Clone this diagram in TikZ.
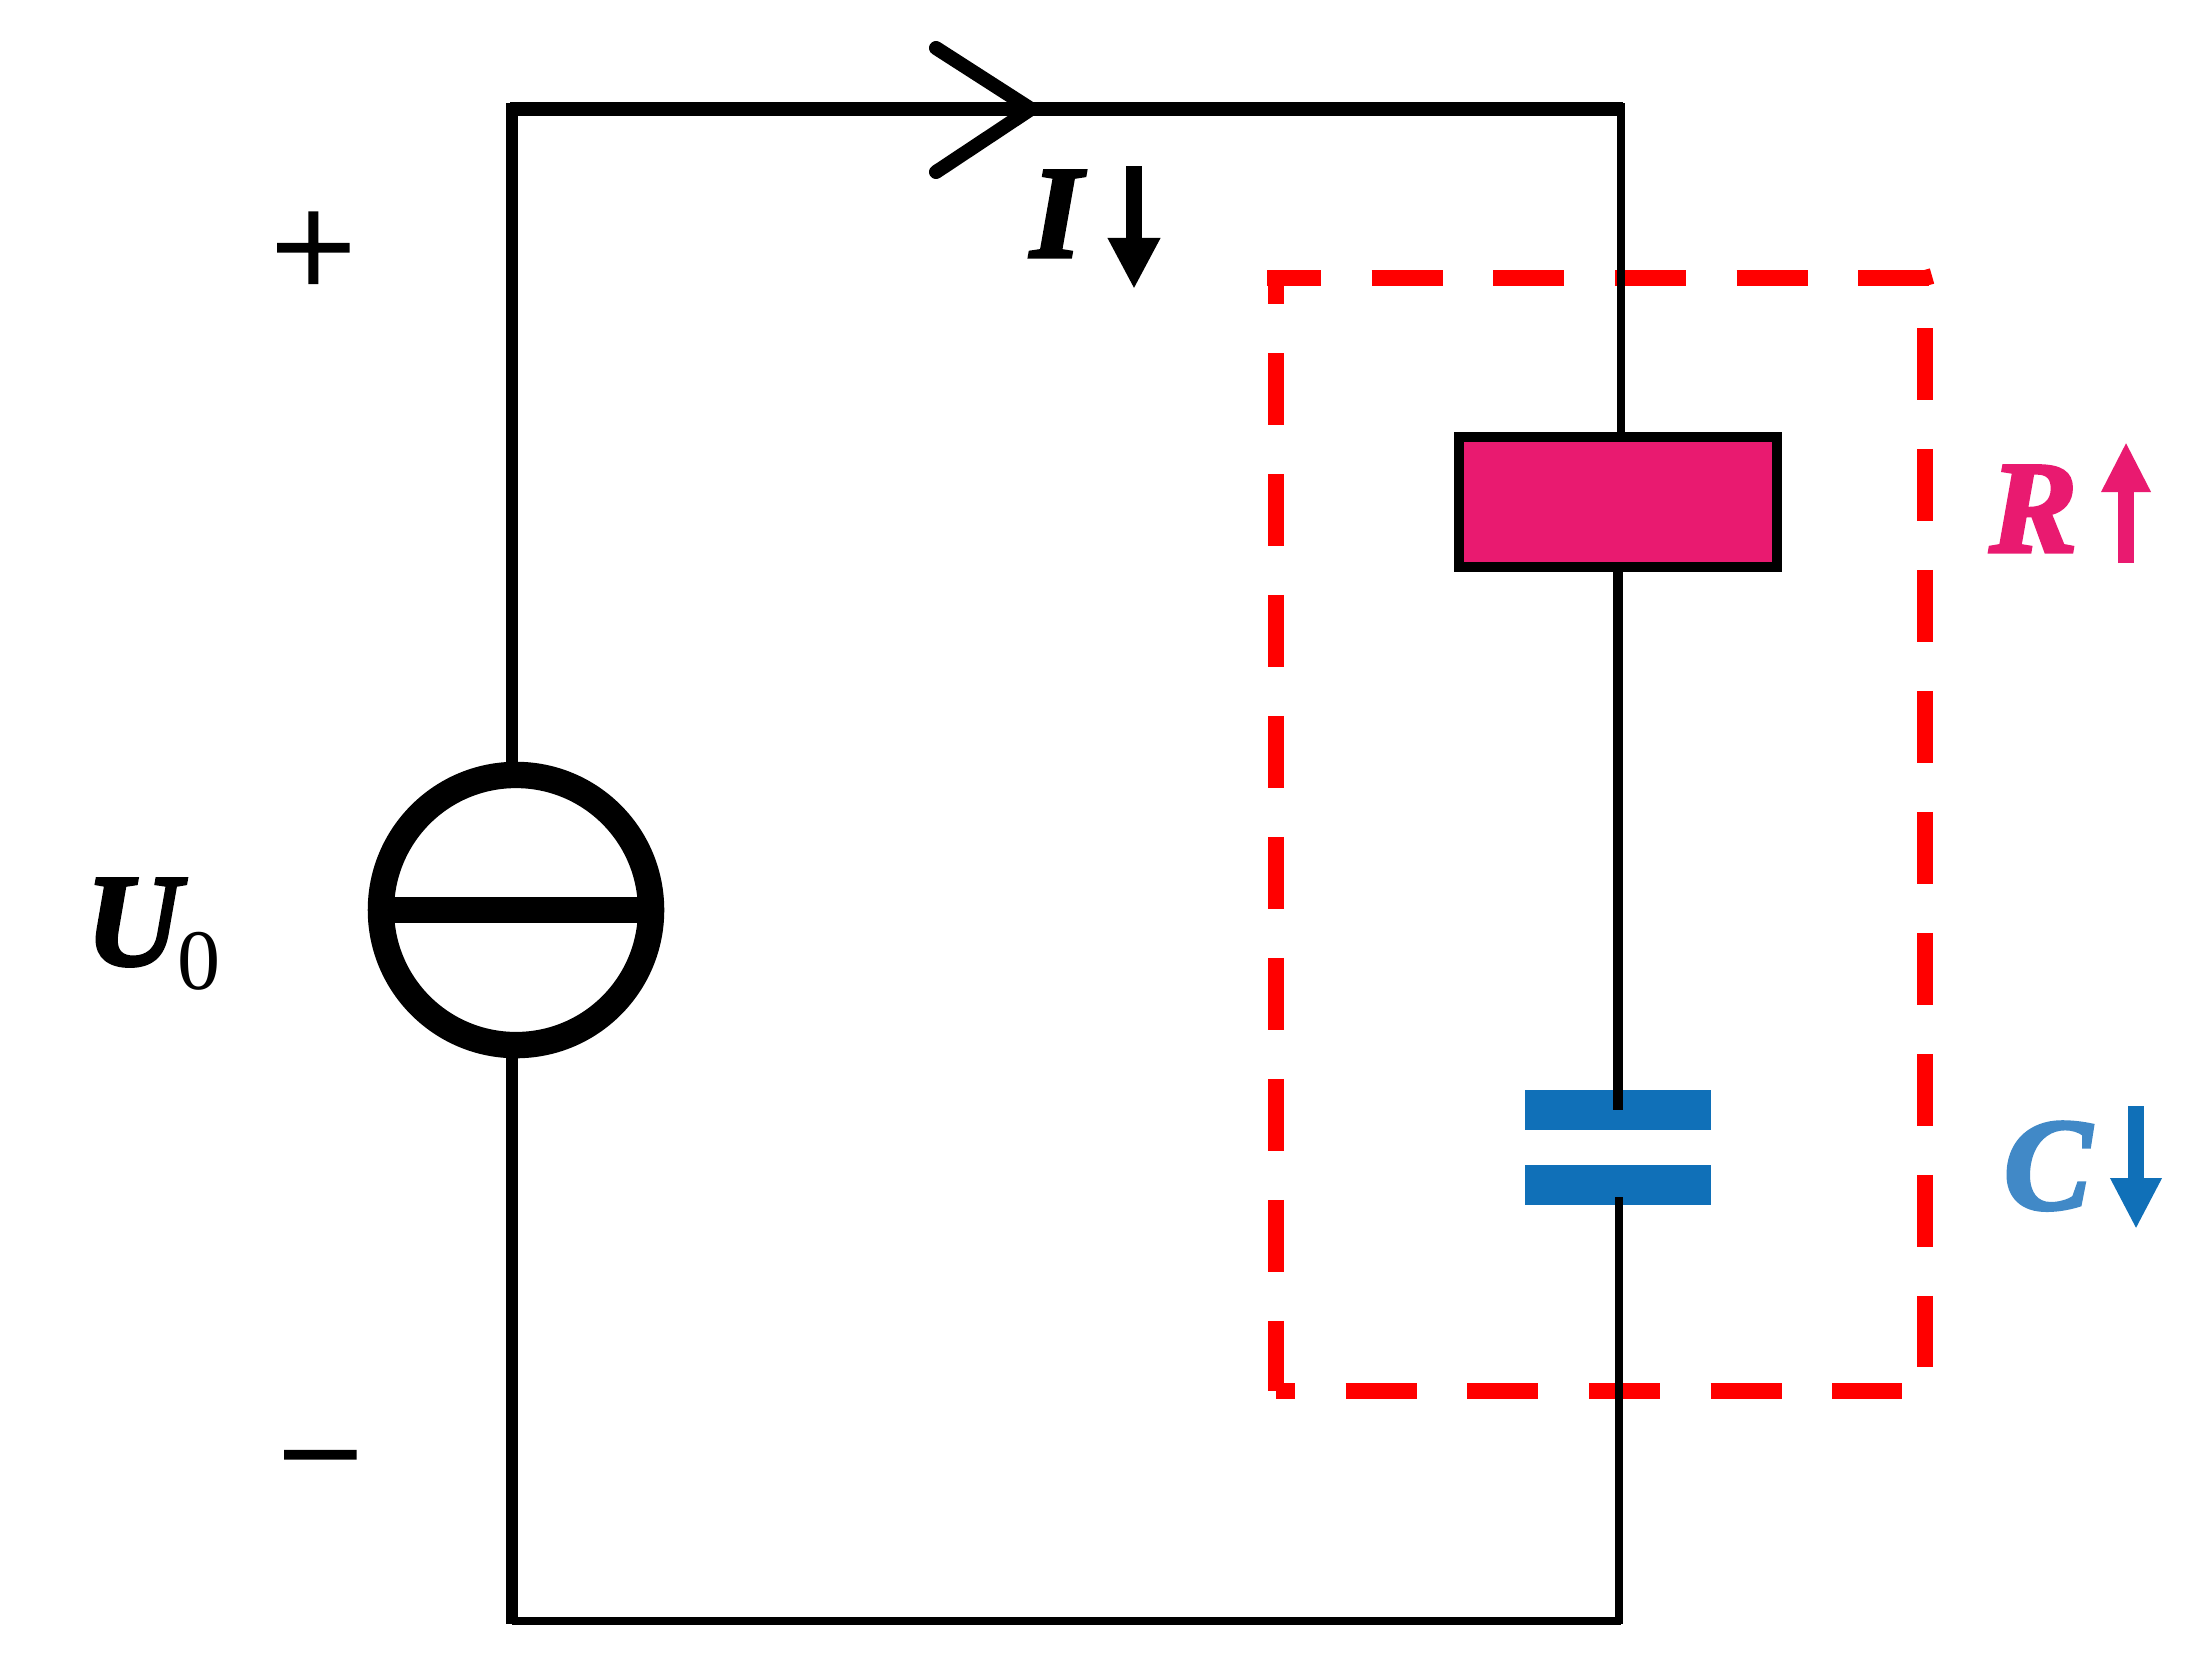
\documentclass[tikz,border=0pt]{standalone}
\usepackage{fontspec}
\setmainfont{Liberation Serif}
\newfontfamily\lblfont[FakeBold=2.6]{Liberation Serif Bold Italic}
\newfontfamily\signfont[FakeBold=1.5]{Liberation Serif}
\usetikzlibrary{arrows.meta}
\definecolor{redbox}{HTML}{FF0000}
\definecolor{resfill}{HTML}{E91A70}
\definecolor{capblue}{HTML}{1070B8}
\definecolor{clabel}{HTML}{4189C7}
\tikzset{
  wire/.style={draw=black,line cap=butt},
  frameh/.style={draw=redbox,line width=4.7pt,dash pattern=on 20.2pt off 14.4pt},
  framev/.style={draw=redbox,line width=4.7pt,dash pattern=on 20.4pt off 14.0pt},
  plate/.style={rectangle,fill=capblue,minimum width=1.86cm,minimum height=0.40cm,inner sep=0pt},
  lab/.style={anchor=base west,inner sep=0pt,font=\fontsize{37.4pt}{40pt}\selectfont},
  sign/.style={anchor=base west,inner sep=0pt,font=\fontsize{43pt}{46pt}\signfont},
  blab/.style={lab,font=\fontsize{37.4pt}{40pt}\lblfont},
  shaft/.style={line width=4.8pt}
}
\begin{document}
\begin{tikzpicture}[x=0.01cm,y=-0.01cm]
\useasboundingbox (0,0) rectangle (2195,1669);
% dashed frame
\coordinate (ftl) at (1267,278);
\coordinate (ftr) at (1929,278);
\coordinate (fte) at (1925,278);
\coordinate (fte2) at (1932,276);
\coordinate (fl1) at (1276,270);
\coordinate (fl2) at (1276,1391);
\coordinate (fr1) at (1925,328);
\coordinate (fr2) at (1925,1367);
\coordinate (fb1) at (1276,1391);
\coordinate (fb2) at (1902,1391);
\draw[frameh,dash phase=4.84pt] (ftl) -- (ftr);
\draw[draw=redbox,line width=4.5pt] (fte) -- (fte2);
\draw[framev,dash phase=10.8pt] (fl1) -- (fl2);
\draw[framev] (fr1) -- (fr2);
\draw[frameh,dash phase=14.8pt] (fb1) -- (fb2);
% components
\node[draw=black,line width=2.85pt,fill=resfill,rectangle,minimum width=3.17cm,minimum height=1.30cm,inner sep=0pt] (Rbox) at (1618,502) {};
\node[plate] (c1) at (1618,1110) {};
\node[plate] (c2) at (1618,1185) {};
\node[draw=black,line width=7.5pt,circle,minimum size=2.70cm,inner sep=0pt] (src) at (516,910) {};
% corners
\coordinate (tl) at (510,109);
\coordinate (tr) at (1623,109);
\coordinate (trw) at (1621,103);
\coordinate (bl) at (512,1621);
\coordinate (br) at (1621,1621);
\coordinate (brw) at (1619,1624);
\coordinate (cb) at (1619,1197);
\coordinate (rt) at (1621,432);
\coordinate (ltop) at (512,103);
\coordinate (lsrc) at (512,770);
\coordinate (lsrc2) at (512,1050);
\coordinate (blw) at (512,1624);
% wires
\draw[wire,line width=4.2pt] (tl) -- (tr);
\draw[wire,line width=2.5pt] (trw) -- (rt);
\draw[wire,line width=3.1pt] (Rbox.south) -- (c1.center);
\draw[wire,line width=2.4pt] (cb) -- (brw);
\draw[wire,line width=2.1pt] (bl) -- (br);
\draw[wire,line width=3.4pt] (ltop) -- (lsrc);
\draw[wire,line width=3.4pt] (lsrc2) -- (blw);
\draw[wire,line width=7.6pt,shorten >=0.08cm,shorten <=0.08cm] (src.west) -- (src.east);
% current chevron
\coordinate (ch1) at (936,48);
\coordinate (ch2) at (1031,109);
\coordinate (ch3) at (936,172);
\draw[line width=4pt,line cap=round,line join=miter] (ch1) -- (ch2) -- (ch3);
% labels
\node[sign] (plus) at (270,298) {+};
\node[sign] (minus) at (277,1505) {−};
\node[blab] (ilab) at (1030,257) {I};
\node[lab] (ulab) at (85,965) {{\lblfont U}\kern-1pt\raisebox{-7pt}{\fontsize{24.5pt}{26pt}\selectfont 0}};
\node[blab,text=resfill] (rlab) at (1989,552) {R};
\node[blab,text=clabel] (clab) at (2003,1209) {C};
% small arrows
\coordinate (ia) at (1134,166);
\coordinate (ib) at (1134,289);
\draw[shaft,-{Triangle[length=5.1mm,width=4.9mm]}] (ia) -- (ib);
\coordinate (ra) at (2126,563);
\coordinate (rb) at (2126,442);
\draw[shaft,draw=resfill,-{Triangle[length=5mm,width=4.6mm]}] (ra) -- (rb);
\coordinate (ca) at (2136,1106);
\coordinate (cc) at (2136,1229);
\draw[shaft,draw=capblue,-{Triangle[length=5.1mm,width=4.8mm]}] (ca) -- (cc);
\end{tikzpicture}
\end{document}
